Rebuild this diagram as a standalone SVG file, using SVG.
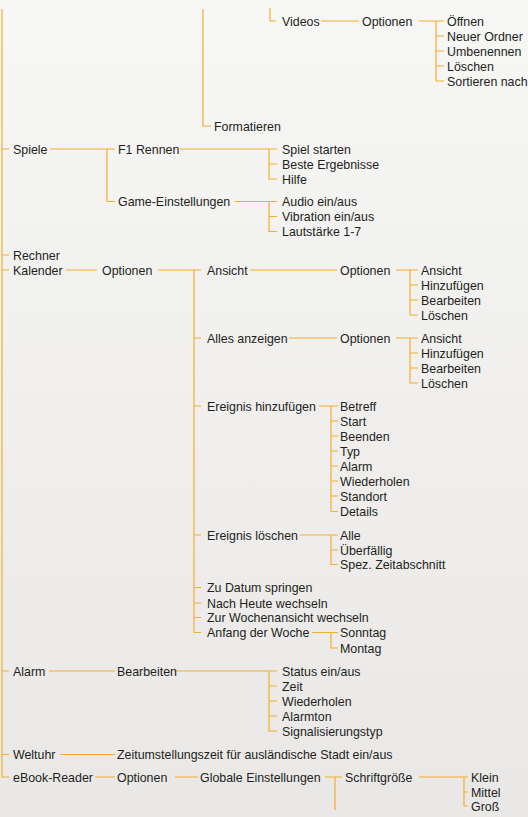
<svg xmlns="http://www.w3.org/2000/svg" width="528" height="817" viewBox="0 0 528 817">
<defs>
<linearGradient id="bg" x1="0" y1="0" x2="0" y2="1">
<stop offset="0" stop-color="#f7f7f6"/>
<stop offset="0.5" stop-color="#f0efee"/>
<stop offset="1" stop-color="#e9e8e6"/>
</linearGradient>
<style>
.c{fill:none;stroke:#f4ae2c;stroke-width:1.2}
text{font-family:"Liberation Sans",Arial,sans-serif;font-size:12.4px;fill:#231f20}
</style>
</defs>
<rect width="528" height="817" fill="url(#bg)"/>
<g id="connectors" class="c">
<path d="M2,9V777H9M2,149H9M2,255H9M2,270H9M2,671H9M2,754.5H9"/>
<path d="M203,9V126H211"/>
<path d="M270,8V21H276M321,21H359M419,21H444M436,21V81H444M436,36H444M436,51H444M436,66H444"/>
<path d="M50,149H115M107,149V201.5H115M180,149H277M269,149V179H277M269,164H277M235,201.5H277M269,201.5V231.5H277M269,216.5H277"/>
<path d="M66,270H97M158,270H201M194,270V632.5H201M194,338H201M194,406H201M194,535H201M194,587.5H201M194,603H201M194,617.5H201"/>
<path d="M250,270H337M396,270H418M410,270V315H418M410,285H418M410,300H418"/>
<path d="M289,338H337M396,338H418M410,338V383H418M410,353H418M410,368H418"/>
<path d="M319,406H338M331,406V511.5H338M331,421H338M331,436H338M331,451H338M331,466H338M331,481H338M331,496H338"/>
<path d="M300,535H338M331,535V564.5H338M331,550H338"/>
<path d="M312,632.5H338M331,632.5V648H338"/>
<path d="M49,671H115M174,671H277M269,671V731H277M269,686H277M269,701H277M269,716H277"/>
<path d="M60,754.5H115"/>
<path d="M95,777H115M175,777H198M325,777H342M335,777V810M419,777H468M464,777V806H468M464,792H468"/>
</g>
<g id="n-formatieren"><text x="214" y="130.5">Formatieren</text></g>
<g id="n-videos"><text x="282" y="25.5">Videos</text></g>
<g id="n-videos-optionen"><text x="362" y="25.5">Optionen</text></g>
<g id="n-videos-items">
<text x="447" y="25.5">Öffnen</text>
<text x="447" y="40.5">Neuer Ordner</text>
<text x="447" y="55.5">Umbenennen</text>
<text x="447" y="70.5">Löschen</text>
<text x="447" y="85.5">Sortieren nach</text>
</g>
<g id="n-spiele"><text x="13" y="153.5">Spiele</text></g>
<g id="n-f1"><text x="118" y="153.5">F1 Rennen</text></g>
<g id="n-f1-items">
<text x="282" y="153.5">Spiel starten</text>
<text x="282" y="168.5">Beste Ergebnisse</text>
<text x="282" y="183.5">Hilfe</text>
</g>
<g id="n-game"><text x="118" y="206">Game-Einstellungen</text></g>
<g id="n-game-items">
<text x="282" y="206">Audio ein/aus</text>
<text x="282" y="221">Vibration ein/aus</text>
<text x="282" y="236">Lautstärke 1-7</text>
</g>
<g id="n-rechner"><text x="13" y="259.5">Rechner</text></g>
<g id="n-kalender"><text x="13" y="274.5">Kalender</text></g>
<g id="n-kal-optionen"><text x="102" y="274.5">Optionen</text></g>
<g id="n-ansicht"><text x="207" y="274.5">Ansicht</text></g>
<g id="n-ansicht-optionen"><text x="340" y="274.5">Optionen</text></g>
<g id="n-ansicht-items">
<text x="421" y="274.5">Ansicht</text>
<text x="421" y="289.5">Hinzufügen</text>
<text x="421" y="304.5">Bearbeiten</text>
<text x="421" y="319.5">Löschen</text>
</g>
<g id="n-alles"><text x="207" y="342.5">Alles anzeigen</text></g>
<g id="n-alles-optionen"><text x="340" y="342.5">Optionen</text></g>
<g id="n-alles-items">
<text x="421" y="342.5">Ansicht</text>
<text x="421" y="357.5">Hinzufügen</text>
<text x="421" y="372.5">Bearbeiten</text>
<text x="421" y="387.5">Löschen</text>
</g>
<g id="n-ereignis-hinzu"><text x="207" y="410.5">Ereignis hinzufügen</text></g>
<g id="n-ereignis-items">
<text x="340" y="410.5">Betreff</text>
<text x="340" y="425.5">Start</text>
<text x="340" y="440.5">Beenden</text>
<text x="340" y="455.5">Typ</text>
<text x="340" y="470.5">Alarm</text>
<text x="340" y="485.5">Wiederholen</text>
<text x="340" y="500.5">Standort</text>
<text x="340" y="516">Details</text>
</g>
<g id="n-ereignis-loeschen"><text x="207" y="539.5">Ereignis löschen</text></g>
<g id="n-loeschen-items">
<text x="340" y="539.5">Alle</text>
<text x="340" y="554.5">Überfällig</text>
<text x="340" y="569">Spez. Zeitabschnitt</text>
</g>
<g id="n-kal-more">
<text x="207" y="592">Zu Datum springen</text>
<text x="207" y="607.5">Nach Heute wechseln</text>
<text x="207" y="622">Zur Wochenansicht wechseln</text>
<text x="207" y="637">Anfang der Woche</text>
</g>
<g id="n-woche-items">
<text x="340" y="637">Sonntag</text>
<text x="340" y="652.5">Montag</text>
</g>
<g id="n-alarm"><text x="13" y="675.5">Alarm</text></g>
<g id="n-bearbeiten"><text x="117" y="675.5">Bearbeiten</text></g>
<g id="n-alarm-items">
<text x="282" y="675.5">Status ein/aus</text>
<text x="282" y="690.5">Zeit</text>
<text x="282" y="705.5">Wiederholen</text>
<text x="282" y="720.5">Alarmton</text>
<text x="282" y="735.5">Signalisierungstyp</text>
</g>
<g id="n-weltuhr"><text x="13" y="759">Weltuhr</text></g>
<g id="n-zeitumstellung"><text x="117" y="759">Zeitumstellungszeit für ausländische Stadt ein/aus</text></g>
<g id="n-ebook"><text x="13" y="781.5">eBook-Reader</text></g>
<g id="n-ebook-optionen"><text x="117" y="781.5">Optionen</text></g>
<g id="n-globale"><text x="200" y="781.5">Globale Einstellungen</text></g>
<g id="n-schrift"><text x="345" y="781.5">Schriftgröße</text></g>
<g id="n-schrift-items">
<text x="471" y="781.5">Klein</text>
<text x="471" y="796.5">Mittel</text>
<text x="471" y="810.5">Groß</text>
</g>
</svg>
